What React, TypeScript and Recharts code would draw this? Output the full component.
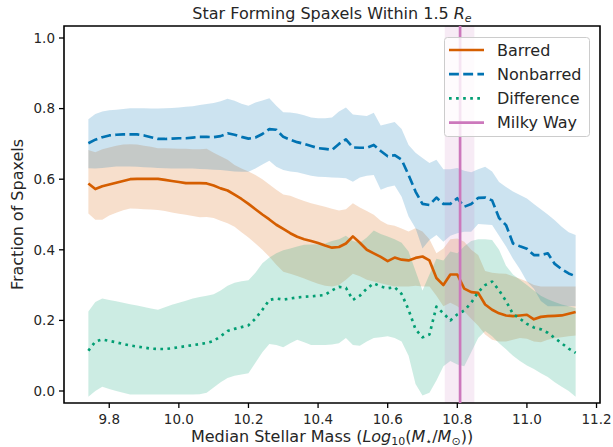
import React from 'react';
import { ComposedChart, Area, Line, XAxis, YAxis, ReferenceLine, ReferenceArea } from 'recharts';

// ---- data ----
const mass = [
  9.74, 9.76, 9.78, 9.80, 9.82, 9.84, 9.86, 9.88, 9.90, 9.92, 9.94, 9.96, 9.98, 10.00, 10.02, 10.04, 10.06, 10.08,
  10.10, 10.12, 10.14, 10.16, 10.18, 10.20, 10.22, 10.24, 10.26, 10.28, 10.30, 10.32, 10.34, 10.36, 10.38, 10.40,
  10.42, 10.44, 10.46, 10.48, 10.50, 10.52, 10.54, 10.56, 10.58, 10.60, 10.62, 10.64, 10.66, 10.68, 10.70, 10.72,
  10.74, 10.76, 10.78, 10.80, 10.82, 10.84, 10.86, 10.88, 10.90, 10.92, 10.94, 10.96, 10.98, 11.00, 11.02, 11.04,
  11.06, 11.08, 11.10, 11.12, 11.14,
];

const barred = [
  0.588, 0.572, 0.580, 0.585, 0.590, 0.595, 0.600, 0.601, 0.601, 0.601, 0.601, 0.598, 0.595, 0.592, 0.589, 0.589, 0.589, 0.588,
  0.582, 0.574, 0.568, 0.556, 0.544, 0.530, 0.515, 0.500, 0.486, 0.471, 0.459, 0.447, 0.437, 0.430, 0.425, 0.419,
  0.412, 0.406, 0.408, 0.418, 0.438, 0.420, 0.400, 0.390, 0.380, 0.368, 0.378, 0.372, 0.370, 0.377, 0.381, 0.370,
  0.320, 0.300, 0.330, 0.330, 0.290, 0.280, 0.278, 0.245, 0.230, 0.220, 0.214, 0.212, 0.214, 0.216, 0.203, 0.210,
  0.212, 0.213, 0.214, 0.219, 0.224,
];
const barredLow = [
  0.503, 0.485, 0.485, 0.497, 0.505, 0.512, 0.517, 0.516, 0.515, 0.514, 0.513, 0.510, 0.506, 0.502, 0.499, 0.496, 0.492, 0.493,
  0.490, 0.482, 0.475, 0.465, 0.450, 0.435, 0.418, 0.400, 0.380, 0.358, 0.338, 0.332, 0.326, 0.319, 0.311, 0.304,
  0.298, 0.296, 0.300, 0.315, 0.332, 0.325, 0.315, 0.310, 0.305, 0.300, 0.296, 0.296, 0.296, 0.298, 0.296, 0.296,
  0.270, 0.240, 0.250, 0.240, 0.225, 0.205, 0.185, 0.160, 0.145, 0.140, 0.140, 0.145, 0.150, 0.148, 0.140, 0.138,
  0.145, 0.150, 0.152, 0.155, 0.157,
];
const barredHigh = [
  0.683, 0.676, 0.685, 0.690, 0.695, 0.698, 0.699, 0.698, 0.695, 0.692, 0.688, 0.688, 0.687, 0.686, 0.686, 0.685, 0.685, 0.686,
  0.675, 0.665, 0.655, 0.640, 0.630, 0.622, 0.612, 0.600, 0.585, 0.570, 0.557, 0.553, 0.545, 0.538, 0.532, 0.527,
  0.522, 0.516, 0.511, 0.515, 0.532, 0.520, 0.510, 0.499, 0.482, 0.472, 0.468, 0.460, 0.452, 0.461, 0.452, 0.430,
  0.390, 0.404, 0.430, 0.432, 0.423, 0.400, 0.385, 0.340, 0.335, 0.333, 0.332, 0.325, 0.318, 0.310, 0.300, 0.296,
  0.296, 0.296, 0.296, 0.296, 0.296,
];

const nonbarred = [
  0.702, 0.712, 0.719, 0.724, 0.726, 0.727, 0.727, 0.727, 0.724, 0.719, 0.714, 0.714, 0.715, 0.716, 0.716, 0.718, 0.720, 0.720,
  0.719, 0.722, 0.730, 0.726, 0.720, 0.715, 0.718, 0.728, 0.742, 0.740, 0.720, 0.712, 0.705, 0.700, 0.694, 0.688,
  0.686, 0.683, 0.700, 0.713, 0.690, 0.689, 0.689, 0.697, 0.680, 0.665, 0.668, 0.655, 0.612, 0.565, 0.530, 0.527,
  0.548, 0.530, 0.530, 0.546, 0.522, 0.530, 0.547, 0.548, 0.540, 0.490, 0.470, 0.418, 0.410, 0.403, 0.385, 0.385,
  0.390, 0.360, 0.345, 0.333, 0.325,
];
const nonbarredLow = [
  0.631, 0.630, 0.632, 0.634, 0.636, 0.636, 0.636, 0.635, 0.634, 0.633, 0.632, 0.631, 0.630, 0.630, 0.630, 0.630, 0.629, 0.628,
  0.627, 0.626, 0.624, 0.622, 0.621, 0.621, 0.630, 0.642, 0.652, 0.635, 0.626, 0.622, 0.620, 0.615, 0.610, 0.607,
  0.606, 0.605, 0.604, 0.603, 0.593, 0.605, 0.610, 0.612, 0.570, 0.578, 0.582, 0.550, 0.494, 0.461, 0.404, 0.428,
  0.442, 0.423, 0.440, 0.447, 0.451, 0.451, 0.473, 0.472, 0.470, 0.440, 0.409, 0.375, 0.345, 0.310, 0.290, 0.255,
  0.240, 0.240, 0.240, 0.240, 0.240,
];
const nonbarredHigh = [
  0.770, 0.785, 0.792, 0.795, 0.797, 0.799, 0.801, 0.801, 0.801, 0.800, 0.800, 0.801, 0.802, 0.803, 0.805, 0.807, 0.810, 0.813,
  0.816, 0.821, 0.828, 0.822, 0.814, 0.808, 0.817, 0.823, 0.829, 0.808, 0.790, 0.789, 0.786, 0.781, 0.775, 0.773,
  0.773, 0.775, 0.792, 0.803, 0.783, 0.781, 0.779, 0.788, 0.752, 0.757, 0.762, 0.742, 0.697, 0.675, 0.660, 0.646,
  0.655, 0.628, 0.628, 0.632, 0.624, 0.620, 0.628, 0.635, 0.622, 0.592, 0.578, 0.565, 0.555, 0.545, 0.530, 0.515,
  0.500, 0.484, 0.465, 0.450, 0.442,
];

const difference = [
  0.114, 0.140, 0.146, 0.142, 0.138, 0.133, 0.129, 0.126, 0.123, 0.120, 0.119, 0.119, 0.121, 0.124, 0.127, 0.130, 0.133, 0.136,
  0.142, 0.155, 0.170, 0.176, 0.181, 0.186, 0.205, 0.230, 0.258, 0.262, 0.259, 0.262, 0.265, 0.267, 0.268, 0.270,
  0.272, 0.285, 0.295, 0.292, 0.258, 0.270, 0.290, 0.305, 0.296, 0.291, 0.294, 0.275, 0.230, 0.175, 0.152, 0.160,
  0.239, 0.220, 0.200, 0.217, 0.228, 0.250, 0.280, 0.300, 0.310, 0.285, 0.255, 0.218, 0.205, 0.190, 0.180, 0.175,
  0.165, 0.150, 0.135, 0.120, 0.108,
];
const differenceLow = [
  -0.016, 0.000, 0.012, 0.006, 0.000, -0.005, -0.010, -0.010, -0.010, -0.010, -0.010, -0.010, -0.010, -0.010, -0.010, -0.010, -0.009, -0.005,
  0.010, 0.025, 0.037, 0.043, 0.047, 0.050, 0.080, 0.110, 0.133, 0.130, 0.124, 0.135, 0.145, 0.138, 0.130, 0.130,
  0.130, 0.132, 0.135, 0.150, 0.130, 0.128, 0.140, 0.150, 0.152, 0.155, 0.150, 0.140, 0.100, 0.020, -0.013, -0.005,
  0.030, 0.070, 0.085, 0.075, 0.070, 0.110, 0.150, 0.170, 0.155, 0.135, 0.118, 0.100, 0.085, 0.072, 0.062, 0.050,
  0.040, 0.025, 0.012, 0.000, -0.016,
];
const differenceHigh = [
  0.225, 0.252, 0.262, 0.258, 0.254, 0.250, 0.246, 0.242, 0.238, 0.234, 0.230, 0.237, 0.244, 0.250, 0.256, 0.262, 0.266, 0.270,
  0.274, 0.285, 0.298, 0.307, 0.311, 0.314, 0.335, 0.362, 0.378, 0.390, 0.399, 0.404, 0.409, 0.414, 0.415, 0.416,
  0.418, 0.425, 0.430, 0.440, 0.425, 0.420, 0.435, 0.455, 0.445, 0.438, 0.430, 0.420, 0.395, 0.340, 0.285, 0.330,
  0.375, 0.370, 0.395, 0.390, 0.410, 0.425, 0.430, 0.430, 0.428, 0.400, 0.355, 0.330, 0.315, 0.300, 0.285, 0.270,
  0.260, 0.252, 0.245, 0.240, 0.235,
];

const milkyWayMass = 10.808;
const milkyWayLow = 10.764;
const milkyWayHigh = 10.849;

const xTicks = [9.8, 10.0, 10.2, 10.4, 10.6, 10.8, 11.0, 11.2];
const yTicks = [0.0, 0.2, 0.4, 0.6, 0.8, 1.0];
const xDomain = [9.67, 11.21];
const yDomain = [-0.034, 1.034];

const legendItems = [
  { label: 'Barred', color: '#D55E00', dash: undefined as string | undefined },
  { label: 'Nonbarred', color: '#0173B2', dash: '9.9 4.3' },
  { label: 'Difference', color: '#029E73', dash: '2.67 4.4' },
  { label: 'Milky Way', color: '#CC78BC', dash: undefined as string | undefined },
];

const rows = mass.map((x, i) => ({
  x,
  barred: barred[i],
  barredBand: [barredLow[i], barredHigh[i]],
  nonbarred: nonbarred[i],
  nonbarredBand: [nonbarredLow[i], nonbarredHigh[i]],
  difference: difference[i],
  differenceBand: [differenceLow[i], differenceHigh[i]],
}));

const W = 613;
const H = 447;
const FONT = 'DejaVu Sans';
const TXT = '#262626';
const LW = 2.67;

export default function App() {
  return (
    <div style={{ position: 'absolute', left: 0, top: 0, width: W, height: H, background: '#fff' }}>
      <ComposedChart width={W} height={H} data={rows} margin={{ top: 26, right: 13, bottom: 0, left: 0 }}>
        <XAxis
          dataKey="x"
          type="number"
          domain={xDomain}
          ticks={xTicks}
          allowDataOverflow
          tickFormatter={(v: number) => v.toFixed(1)}
          height={44}
          axisLine={false}
          tickLine={{ stroke: '#000', strokeWidth: 1.3 }}
          tickSize={5}
          tickMargin={6}
          tick={{ fill: TXT, fontSize: 13.5, fontFamily: FONT }}
          interval={0}
        />
        <YAxis
          type="number"
          domain={yDomain}
          ticks={yTicks}
          allowDataOverflow
          tickFormatter={(v: number) => v.toFixed(1)}
          width={64}
          axisLine={false}
          tickLine={{ stroke: '#000', strokeWidth: 1.3 }}
          tickSize={5}
          tickMargin={4}
          tick={{ fill: TXT, fontSize: 13.5, fontFamily: FONT }}
          interval={0}
        />
        <Area dataKey="barredBand" type="linear" stroke="none" fill="#D55E00" fillOpacity={0.2} isAnimationActive={false} />
        <Area dataKey="nonbarredBand" type="linear" stroke="none" fill="#0173B2" fillOpacity={0.2} isAnimationActive={false} />
        <Area dataKey="differenceBand" type="linear" stroke="none" fill="#029E73" fillOpacity={0.2} isAnimationActive={false} />
        <ReferenceArea x1={milkyWayLow} x2={milkyWayHigh} fill="#CC78BC" fillOpacity={0.15} stroke="none" ifOverflow="hidden" />
        <Line dataKey="barred" type="linear" stroke="#D55E00" strokeWidth={LW} dot={false} strokeLinejoin="round" isAnimationActive={false} />
        <Line dataKey="nonbarred" type="linear" stroke="#0173B2" strokeWidth={LW} strokeDasharray="9.9 4.3" dot={false} strokeLinejoin="round" isAnimationActive={false} />
        <Line dataKey="difference" type="linear" stroke="#029E73" strokeWidth={LW} strokeDasharray="2.67 4.4" dot={false} strokeLinejoin="round" isAnimationActive={false} />
        <ReferenceLine x={milkyWayMass} stroke="#CC78BC" strokeWidth={LW} ifOverflow="hidden" />
        <ReferenceArea x1={xDomain[0]} x2={xDomain[1]} y1={yDomain[0]} y2={yDomain[1]} fill="none" stroke="#000" strokeWidth={1.6} ifOverflow="visible" />
      </ComposedChart>
      <svg width={W} height={H} style={{ position: 'absolute', left: 0, top: 0, pointerEvents: 'none' }}>
        <text x={332} y={19} textAnchor="middle" fontFamily={FONT} fontSize={16} fill={TXT}>
          Star Forming Spaxels Within 1.5 <tspan fontStyle="italic">R</tspan>
          <tspan fontSize={11} dy={3} fontStyle="italic">e</tspan>
        </text>
        <text x={332} y={442} textAnchor="middle" fontFamily={FONT} fontSize={16} fill={TXT}>
          Median Stellar Mass (<tspan fontStyle="italic">Log</tspan>
          <tspan fontSize={11} dy={3}>10</tspan>
          <tspan dy={-3}>(</tspan>
          <tspan fontStyle="italic">M</tspan>
          <tspan fontSize={11} dy={3}>⋆</tspan>
          <tspan dy={-3}>/</tspan>
          <tspan fontStyle="italic">M</tspan>
          <tspan fontSize={11} dy={3}>⊙</tspan>
          <tspan dy={-3}>))</tspan>
        </text>
        <text x={23} y={214.5} textAnchor="middle" fontFamily={FONT} fontSize={16} fill={TXT} transform="rotate(-90 23 214.5)">
          Fraction of Spaxels
        </text>
        <rect x={444.5} y={37.5} width={145} height={99} rx={3} fill="#fff" fillOpacity={0.8} stroke="#cccccc" strokeWidth={1} />
        {legendItems.map((it, i) => {
          const y = 50 + i * 24.2;
          return (
            <g key={it.label}>
              <line x1={449} x2={484} y1={y} y2={y} stroke={it.color} strokeWidth={LW} strokeDasharray={it.dash} />
              <text x={497} y={y + 5.7} fontFamily={FONT} fontSize={16} fill={TXT}>{it.label}</text>
            </g>
          );
        })}
      </svg>
    </div>
  );
}
